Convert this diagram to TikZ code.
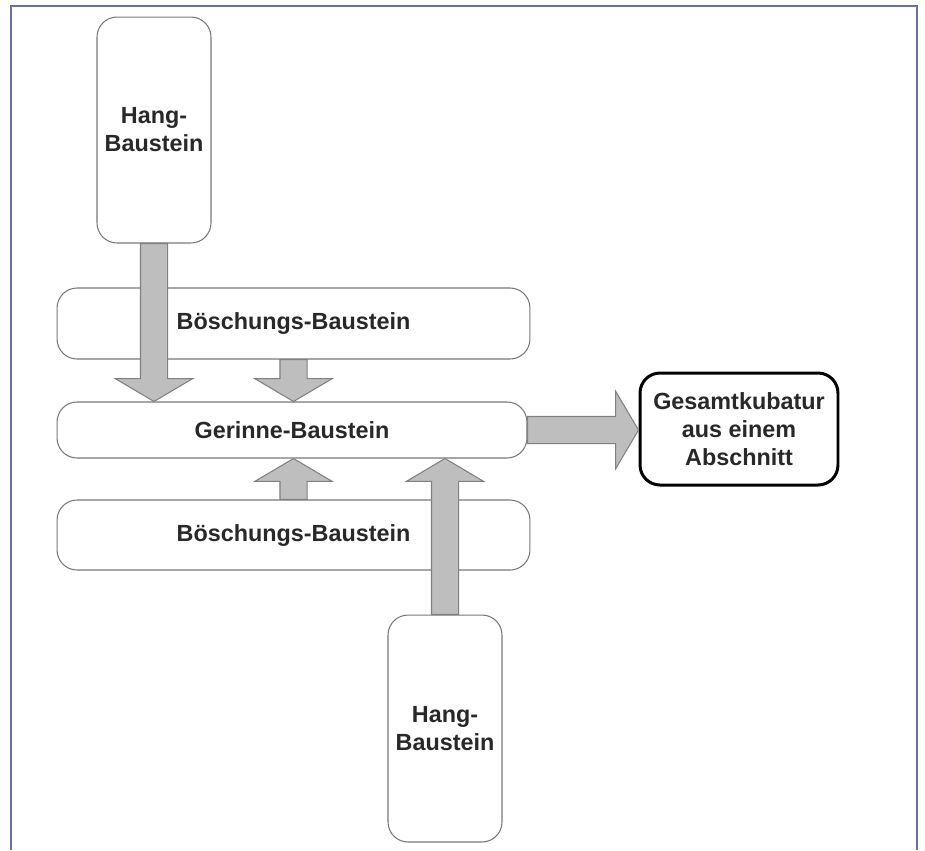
\documentclass[tikz,border=0pt]{standalone}
\usepackage{fontspec}
\setmainfont{Liberation Sans}
\usetikzlibrary{calc}

\definecolor{framecol}{RGB}{104,112,172}
\definecolor{flowfill}{RGB}{190,190,190}
\definecolor{flowline}{RGB}{128,128,128}
\definecolor{boxline}{RGB}{120,120,120}
\definecolor{textcol}{RGB}{40,40,40}

% block arrow from #1 to the tip #2
\newcommand{\flowarrow}[2]{%
	\draw[flow] let \p1=(#1), \p2=(#2), \n1={veclen(\x2-\x1,\y2-\y1)}, \n2={(\x2-\x1)/\n1}, \n3={(\y2-\y1)/\n1}, \p3=({\x2-(\n2)*13pt},{\y2-(\n3)*13pt}) in
		({\x1-(\n3)*7.7pt},{\y1+(\n2)*7.7pt}) -- ({\x3-(\n3)*7.7pt},{\y3+(\n2)*7.7pt}) -- ({\x3-(\n3)*22pt},{\y3+(\n2)*22pt}) -- (\p2)
		-- ({\x3+(\n3)*22pt},{\y3-(\n2)*22pt}) -- ({\x3+(\n3)*7.7pt},{\y3-(\n2)*7.7pt}) -- ({\x1+(\n3)*7.7pt},{\y1-(\n2)*7.7pt}) -- cycle;}

\begin{document}
\begin{tikzpicture}[x=0.02cm,y=-0.02cm,
	box/.style={draw=boxline,line width=0.6pt,fill=white,rounded corners=0.4cm,inner sep=0pt,align=center,text=textcol,font=\fontsize{13.3}{16}\selectfont\bfseries},
	flow/.style={fill=flowfill,draw=flowline,line width=0.6pt}]
	\useasboundingbox (0,0) rectangle (925,850);
	\draw[framecol,line width=1.1pt] (11,850) -- (11,6) -- (917,6) -- (917,850);

	\node[box,minimum width=2.28cm,minimum height=4.52cm] (hangtop) at (154,130) {Hang-\\Baustein};
	\node[box,minimum width=9.46cm,minimum height=1.42cm] (boeschtop) at (293.5,323.5) {Böschungs-Baustein};
	\node[box,minimum width=9.4cm,minimum height=1.12cm] (gerinne) at (292,430) {Gerinne-Baustein};
	\node[box,minimum width=9.46cm,minimum height=1.4cm] (boeschbot) at (293.5,535) {Böschungs-Baustein};
	\node[box,minimum width=2.28cm,minimum height=4.54cm] (hangbot) at (445,728.5) {Hang-\\Baustein};
	\node[box,draw=black,line width=1.7pt,minimum width=3.96cm,minimum height=2.24cm] (total) at (739,429) {Gesamtkubatur\\aus einem\\Abschnitt};

	\flowarrow{hangtop.south}{hangtop.south |- gerinne.north}
	\flowarrow{boeschtop.south}{boeschtop.south |- gerinne.north}
	\flowarrow{boeschbot.north}{boeschbot.north |- gerinne.south}
	\flowarrow{hangbot.north}{hangbot.north |- gerinne.south}
	\flowarrow{gerinne.east}{gerinne.east -| total.west}
\end{tikzpicture}
\end{document}
